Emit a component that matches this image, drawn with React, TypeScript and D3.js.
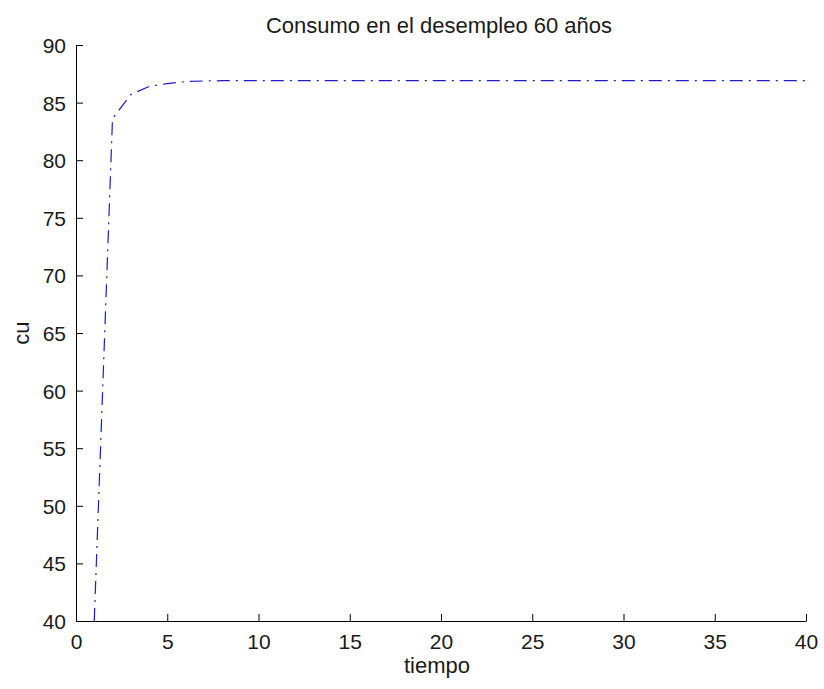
import React, { useEffect, useRef } from 'react';
import * as d3 from 'd3';

// time steps and consumption values
const tiempo = [
  1, 2, 3, 4, 5, 6, 7, 8, 9, 10,
  11, 12, 13, 14, 15, 16, 17, 18, 19, 20,
  21, 22, 23, 24, 25, 26, 27, 28, 29, 30,
  31, 32, 33, 34, 35, 36, 37, 38, 39, 40,
];
const cu = [
  40, 83.6, 85.7, 86.4, 86.65, 86.82, 86.88, 86.9, 86.9, 86.9,
  86.9, 86.9, 86.9, 86.9, 86.9, 86.9, 86.9, 86.9, 86.9, 86.9,
  86.9, 86.9, 86.9, 86.9, 86.9, 86.9, 86.9, 86.9, 86.9, 86.9,
  86.9, 86.9, 86.9, 86.9, 86.9, 86.9, 86.9, 86.9, 86.9, 86.9,
];
const xTicks = [0, 5, 10, 15, 20, 25, 30, 35, 40];
const yTicks = [40, 45, 50, 55, 60, 65, 70, 75, 80, 85, 90];

const title = 'Consumo en el desempleo 60 años';
const xLabel = 'tiempo';
const yLabel = 'cu';

const App = () => {
  const svgRef = useRef<SVGSVGElement>(null);

  useEffect(() => {
    const width = 824;
    const height = 689;
    const margin = { top: 45, right: 18, bottom: 68, left: 76 };
    const font = '"Liberation Sans", Arial, sans-serif';

    const svg = d3.select(svgRef.current);
    svg.selectAll('*').remove();
    svg.attr('width', width).attr('height', height);

    svg.append('rect').attr('width', width).attr('height', height).attr('fill', '#fff');

    const x = d3.scaleLinear().domain([0, 40]).range([margin.left, width - margin.right]);
    const y = d3.scaleLinear().domain([40, 90]).range([height - margin.bottom, margin.top]);

    // axes with ticks pointing inwards, Matlab style
    const xAxis = svg.append('g')
      .attr('transform', `translate(0,${y(40)})`)
      .call(d3.axisBottom(x).tickValues(xTicks).tickSizeInner(-7).tickSizeOuter(0).tickPadding(13));
    const yAxis = svg.append('g')
      .attr('transform', `translate(${x(0)},0)`)
      .call(d3.axisLeft(y).tickValues(yTicks).tickSizeInner(-7).tickSizeOuter(0).tickPadding(10));

    [xAxis, yAxis].forEach(g => {
      g.selectAll('path, line').attr('stroke', '#000').attr('stroke-width', 1);
      g.selectAll('text')
        .attr('font-family', font)
        .attr('font-size', 21)
        .attr('fill', '#1a1a1a');
    });
    yAxis.selectAll('text').attr('dy', '0.36em');

    const line = d3.line<number>()
      .x((d, i) => x(tiempo[i]))
      .y(d => y(d));

    svg.append('path')
      .datum(cu)
      .attr('d', line)
      .attr('fill', 'none')
      .attr('stroke', '#1c1cc4')
      .attr('stroke-width', 1.2)
      .attr('stroke-dasharray', '13,6,2,6');

    svg.append('text')
      .attr('x', (x(0) + x(40)) / 2 - 2)
      .attr('y', 33)
      .attr('text-anchor', 'middle')
      .attr('font-family', font)
      .attr('font-size', 22)
      .attr('fill', '#1a1a1a')
      .text(title);

    svg.append('text')
      .attr('x', (x(0) + x(40)) / 2 - 4)
      .attr('y', 673)
      .attr('text-anchor', 'middle')
      .attr('font-family', font)
      .attr('font-size', 22)
      .attr('fill', '#1a1a1a')
      .text(xLabel);

    svg.append('text')
      .attr('transform', `translate(29,${(y(40) + y(90)) / 2}) rotate(-90)`)
      .attr('text-anchor', 'middle')
      .attr('font-family', font)
      .attr('font-size', 22)
      .attr('fill', '#1a1a1a')
      .text(yLabel);
  }, []);

  return (
    <svg ref={svgRef} style={{ position: 'absolute', left: 0, top: 0, display: 'block' }}></svg>
  );
};

export default App;
